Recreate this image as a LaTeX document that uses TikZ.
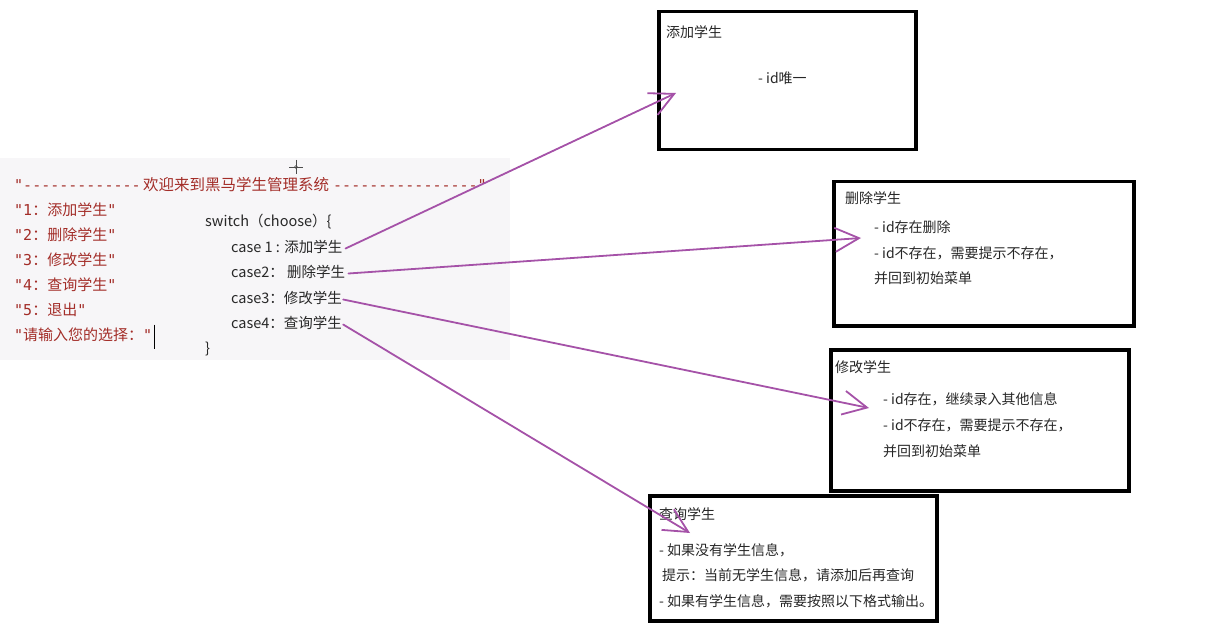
\documentclass[tikz,border=0pt]{standalone}
\usepackage{fontspec}
\setmainfont{Noto Sans CJK SC}
\newfontfamily\cjk{Noto Sans CJK SC}
\newfontfamily\mono[Ligatures=TeXOff]{DejaVu Sans Mono}
\usetikzlibrary{arrows.meta}
\definecolor{strred}{RGB}{163,45,40}
\definecolor{arrowpurple}{RGB}{165,82,168}
\definecolor{codegray}{RGB}{40,40,40}
\definecolor{panel}{RGB}{247,246,248}
\tikzset{
  txt/.style={inner sep=0pt, anchor=west, text height=0.88em, text depth=0.12em, yshift=-2.5pt},
  redtxt/.style={txt, font=\fontsize{15}{18}\selectfont, text=strred},
  codetxt/.style={txt, font=\cjk\fontsize{14.5}{17}\selectfont, text=codegray},
  boxtxt/.style={txt, font=\cjk\fontsize{14}{17}\selectfont, text=black!85},
  panelbox/.style={draw=black, line width=3.5pt, anchor=north west, inner sep=0pt},
  link/.style={draw=arrowpurple, line width=1.8pt, line cap=round,
    -{Straight Barb[length=24pt,width=24pt,line width=1.8pt]}},
}
\begin{document}
\begin{tikzpicture}[x=1pt,y=-1pt]
\useasboundingbox (0,0) rectangle (1207,628);
% code panel background
\fill[panel] (0,158) rectangle (510,360);
% crosshair mark
\draw[black!70, line width=0.6pt] (296,160) -- (296,174) (289,167) -- (303,167);
\draw[black!70, line width=0.5pt] (296,167) circle (1.6);

% left menu text
\node[redtxt] (t0a) at (14,184) {\mono"-------------};
\node[redtxt] (t0b) at (143,184) {\cjk\fontsize{15.5}{18}\selectfont 欢迎来到黑马学生管理系统};
\node[redtxt] (t0c) at (333,184) {\mono----------------"};
\node[redtxt] (m1) at (14,209) {{\mono"1}{\cjk ：添加学生}{\mono"}};
\node[redtxt] (m2) at (14,234) {{\mono"2}{\cjk ：删除学生}{\mono"}};
\node[redtxt] (m3) at (14,259) {{\mono"3}{\cjk ：修改学生}{\mono"}};
\node[redtxt] (m4) at (14,284) {{\mono"4}{\cjk ：查询学生}{\mono"}};
\node[redtxt] (m5) at (14,309) {{\mono"5}{\cjk ：退出}{\mono"}};
\node[redtxt] (m6) at (14,334) {{\mono"}{\cjk 请输入您的选择：}{\mono"}};
% text cursor
\draw[black, line width=0.8pt] ([xshift=2pt,yshift=12pt]m6.east) -- ([xshift=2pt,yshift=-12pt]m6.east);

% switch code
\node[codetxt] (sw) at (205,220) {switch（choose）\{};
\node[codetxt] (c1) at (231,246) {case 1 : 添加学生};
\node[codetxt] (c2) at (231,271) {case2：\ 删除学生};
\node[codetxt] (c3) at (231,297) {case3：修改学生};
\node[codetxt] (c4) at (231,322) {case4：查询学生};
\node[codetxt] (cl) at (205,347) {\}};

% boxes
\node[panelbox, minimum width=257pt, minimum height=138pt] (b1) at (657,10) {};
\node[panelbox, minimum width=300pt, minimum height=144pt] (b2) at (832,180) {};
\node[panelbox, minimum width=298pt, minimum height=141pt] (b3) at (829,348) {};
\node[panelbox, minimum width=287pt, minimum height=125pt] (b4) at (648,494) {};

% box 1
\node[boxtxt] (b1t) at (666,31) {添加学生};
\node[boxtxt] (b1a) at (758,77) {- id唯一};
% box 2
\node[boxtxt] (b2t) at (845,197) {删除学生};
\node[boxtxt] (b2a) at (874,226) {- id存在删除};
\node[boxtxt] (b2b) at (874,252) {- id不存在，需要提示不存在，};
\node[boxtxt] (b2c) at (874,277) {并回到初始菜单};
% box 3
\node[boxtxt] (b3t) at (835,366) {修改学生};
\node[boxtxt] (b3a) at (883,398) {- id存在，继续录入其他信息};
\node[boxtxt] (b3b) at (883,424) {- id不存在，需要提示不存在，};
\node[boxtxt] (b3c) at (883,450) {并回到初始菜单};
% box 4
\node[boxtxt] (b4t) at (659,513) {查询学生};
\node[boxtxt] (b4a) at (659,549) {- 如果没有学生信息，};
\node[boxtxt] (b4b) at (662,574) {提示：当前无学生信息，请添加后再查询};
\node[boxtxt] (b4c) at (659,600) {- 如果有学生信息，需要按照以下格式输出。};

% arrow targets
\coordinate (e1) at (676,93);
\coordinate (e2) at (861,238);
\coordinate (e3) at (869,408);
\coordinate (e4) at (690,533);

\draw[link] ([xshift=3pt]c1.east) -- (e1);
\draw[link] ([xshift=3pt]c2.east) -- (e2);
\draw[link] ([xshift=1pt]c3.east) -- (e3);
\draw[link] ([xshift=1pt]c4.east) -- (e4);
\end{tikzpicture}
\end{document}
